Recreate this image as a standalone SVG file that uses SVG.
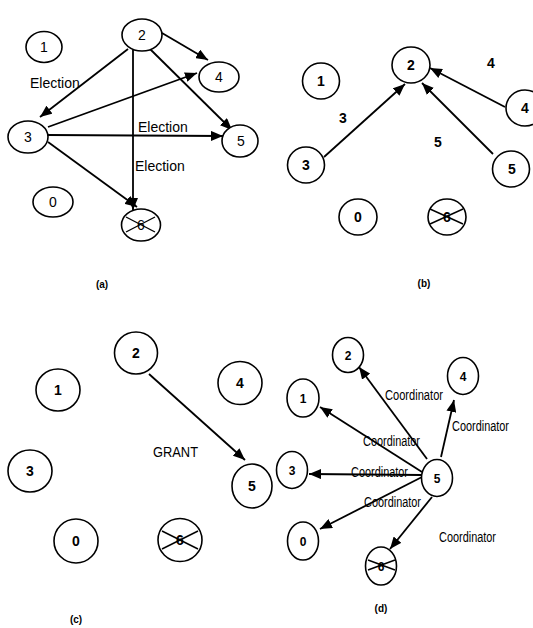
<svg xmlns="http://www.w3.org/2000/svg" width="533" height="628" viewBox="0 0 533 628">
<defs>
<marker id="ah" viewBox="0 0 12 10" refX="12" refY="5" markerWidth="12" markerHeight="10" markerUnits="userSpaceOnUse" orient="auto">
<path d="M0,0 L12,5 L0,10 z" fill="#000"/>
</marker>
</defs>
<style>
.n ellipse{fill:#fff;stroke:#000;stroke-width:1.6}
.x line{stroke:#000;stroke-width:1.4}
text{font-family:"Liberation Sans",Arial,sans-serif;fill:#000}
.t{font-size:14px;text-anchor:middle}
.b{font-size:14px;font-weight:bold;text-anchor:middle}
.d{font-size:12px;font-weight:bold;text-anchor:middle}
.lab{font-size:14px}
.co{font-size:14px}
.cap{font-size:10px;font-weight:bold;text-anchor:middle}
.e line{stroke:#000;stroke-width:1.8;marker-end:url(#ah)}
</style>
<rect width="533" height="628" fill="#fff"/>

<!-- labels drawn under connectors -->
<text class="lab" x="30" y="88">Election</text>
<text class="lab" x="138" y="132">Election</text>
<text class="lab" x="135" y="171">Election</text>
<text class="lab" x="153" y="457" textLength="45" lengthAdjust="spacingAndGlyphs">GRANT</text>
<g class="co">
<text x="385" y="400" textLength="58" lengthAdjust="spacingAndGlyphs">Coordinator</text>
<text x="452" y="431" textLength="57" lengthAdjust="spacingAndGlyphs">Coordinator</text>
<text x="363" y="446" textLength="57" lengthAdjust="spacingAndGlyphs">Coordinator</text>
<text x="351" y="477" textLength="57" lengthAdjust="spacingAndGlyphs">Coordinator</text>
<text x="364" y="507" textLength="57" lengthAdjust="spacingAndGlyphs">Coordinator</text>
<text x="439" y="542" textLength="57" lengthAdjust="spacingAndGlyphs">Coordinator</text>
</g>

<g id="edges" class="e">
<!-- (a) -->
<line x1="128" y1="49" x2="40" y2="117"/>
<line x1="133" y1="50" x2="133" y2="210"/>
<line x1="162" y1="33" x2="208" y2="60"/>
<line x1="150" y1="49" x2="232" y2="130"/>
<line x1="48" y1="127" x2="197" y2="73"/>
<line x1="48" y1="135" x2="223" y2="136"/>
<line x1="48" y1="142" x2="137" y2="207"/>
<!-- (b) -->
<line x1="324" y1="157" x2="405" y2="84"/>
<line x1="493" y1="154" x2="422" y2="83"/>
<line x1="505" y1="107" x2="430" y2="68"/>
<!-- (c) -->
<line x1="149" y1="374" x2="245" y2="460"/>
<!-- (d) -->
<line x1="427" y1="459" x2="359" y2="367"/>
<line x1="422" y1="472" x2="320" y2="407"/>
<line x1="422" y1="475" x2="309" y2="474"/>
<line x1="422" y1="477" x2="320" y2="529"/>
<line x1="432" y1="497" x2="390" y2="549"/>
<line x1="441" y1="457" x2="454" y2="400"/>
</g>

<!-- panel (a) nodes -->
<g id="a1" class="n"><ellipse cx="44" cy="47" rx="18" ry="15.5"/><text class="t" x="44" y="52">1</text></g>
<g id="a2" class="n"><ellipse cx="142" cy="35" rx="20" ry="16"/><text class="t" x="142" y="40">2</text></g>
<g id="a4" class="n"><ellipse cx="219" cy="77" rx="20" ry="15"/><text class="t" x="219" y="82">4</text></g>
<g id="a3" class="n"><ellipse cx="28" cy="137" rx="20" ry="16"/><text class="t" x="28" y="142">3</text></g>
<g id="a5" class="n"><ellipse cx="240" cy="141" rx="18" ry="16"/><text class="t" x="241" y="146">5</text></g>
<g id="a0" class="n"><ellipse cx="53" cy="202" rx="20" ry="15"/><text class="t" x="53" y="207">0</text></g>
<g id="a6" class="n x"><ellipse cx="141" cy="225" rx="19.5" ry="16"/><text class="t" x="141" y="230">6</text><line x1="126" y1="217" x2="155" y2="232"/><line x1="126" y1="232" x2="155" y2="217"/></g>
<text class="cap" x="102" y="288">(a)</text>

<!-- panel (b) nodes -->
<g id="b1" class="n"><ellipse cx="321" cy="81" rx="18.5" ry="18"/><text class="b" x="321" y="86">1</text></g>
<g id="b2" class="n"><ellipse cx="411" cy="65" rx="19" ry="18"/><text class="b" x="411" y="70">2</text></g>
<g id="b4" class="n"><ellipse cx="525" cy="108" rx="19" ry="18"/><text class="b" x="525" y="113">4</text></g>
<g id="b3" class="n"><ellipse cx="306" cy="165" rx="18.5" ry="18"/><text class="b" x="306" y="170">3</text></g>
<g id="b5" class="n"><ellipse cx="511" cy="169" rx="18.5" ry="18"/><text class="b" x="512" y="174">5</text></g>
<g id="b0" class="n"><ellipse cx="358" cy="217" rx="19" ry="18"/><text class="b" x="358" y="222">0</text></g>
<g id="b6" class="n x"><ellipse cx="447" cy="217" rx="19" ry="18"/><text class="b" x="447" y="222">6</text><line x1="430" y1="209" x2="463" y2="224"/><line x1="430" y1="224" x2="463" y2="209"/></g>
<text class="b" x="491" y="68">4</text>
<text class="b" x="343" y="123">3</text>
<text class="b" x="438" y="147">5</text>
<text class="cap" x="424" y="287">(b)</text>

<!-- panel (c) nodes -->
<g id="c2" class="n"><ellipse cx="136" cy="353" rx="21.5" ry="21"/><text class="b" x="136" y="358">2</text></g>
<g id="c1" class="n"><ellipse cx="58" cy="390" rx="22" ry="21"/><text class="b" x="58" y="395">1</text></g>
<g id="c4" class="n"><ellipse cx="240" cy="383" rx="22" ry="21.5"/><text class="b" x="240" y="388">4</text></g>
<g id="c3" class="n"><ellipse cx="30" cy="471" rx="22" ry="21"/><text class="b" x="30" y="476">3</text></g>
<g id="c5" class="n"><ellipse cx="252" cy="486" rx="20" ry="22"/><text class="b" x="252" y="491">5</text></g>
<g id="c0" class="n"><ellipse cx="76" cy="541" rx="22" ry="22"/><text class="b" x="76" y="546">0</text></g>
<g id="c6" class="n x"><ellipse cx="180" cy="540" rx="22" ry="21.5"/><text class="b" x="180" y="545">6</text><line x1="162" y1="531" x2="198" y2="549"/><line x1="162" y1="549" x2="198" y2="531"/></g>
<text class="cap" x="76" y="623">(c)</text>

<!-- panel (d) nodes -->
<g id="d2" class="n"><ellipse cx="348" cy="355" rx="15.5" ry="17.5"/><text class="d" x="348" y="360">2</text></g>
<g id="d1" class="n"><ellipse cx="303" cy="398" rx="16" ry="19"/><text class="d" x="303" y="403">1</text></g>
<g id="d4" class="n"><ellipse cx="463" cy="376" rx="15.5" ry="18.5"/><text class="d" x="463" y="381">4</text></g>
<g id="d3" class="n"><ellipse cx="292" cy="470" rx="15.5" ry="18.5"/><text class="d" x="292" y="475">3</text></g>
<g id="d5" class="n"><ellipse cx="437" cy="478" rx="15.5" ry="18.5"/><text class="d" x="437" y="483">5</text></g>
<g id="d0" class="n"><ellipse cx="303" cy="541" rx="15.5" ry="19"/><text class="d" x="303" y="546">0</text></g>
<g id="d6" class="n x"><ellipse cx="381" cy="566" rx="15.5" ry="19"/><text class="d" x="381" y="571">6</text><line x1="368" y1="560" x2="395" y2="570"/><line x1="368" y1="570" x2="395" y2="560"/></g>
<text class="cap" x="381" y="612">(d)</text>
</svg>
